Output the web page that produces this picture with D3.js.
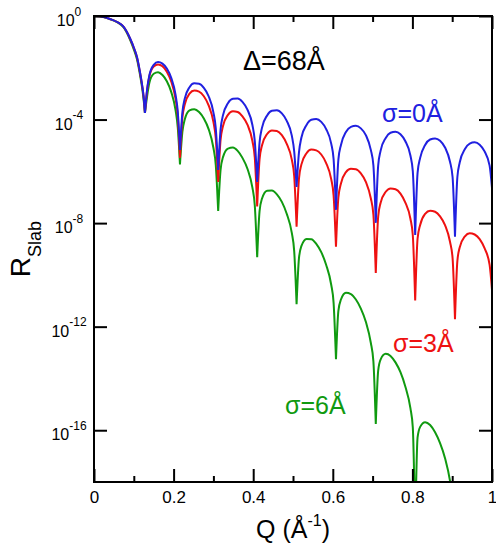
<!DOCTYPE html>
<html>
<head>
<meta charset="utf-8">
<script src="https://d3js.org/d3.v7.min.js"></script>
<style>
  body { margin: 0; background: #fff; }
  svg { display: block; font-family: "Liberation Sans", Arial, sans-serif; }
  .data-line { fill: none; stroke-width: 2; stroke-linejoin: round; }
  .tick line { stroke: #000; stroke-width: 2; }
</style>
</head>
<body>
<svg id="chart" width="496" height="546"></svg>
<script>
"use strict";

/******************************************************* Data *******************************************************/

// Q values (1/Å) shared by the three curves
const Q_VALUES = [
  0, 0.015, 0.04, 0.058, 0.074, 0.0905, 0.1005, 0.108, 0.1155, 0.1205, 0.1245, 0.128,
  0.1335, 0.139, 0.150, 0.161, 0.172, 0.183, 0.194, 0.205, 0.2105, 0.216,
  0.222, 0.228, 0.240, 0.252, 0.264, 0.276, 0.288, 0.300, 0.306, 0.312,
  0.318, 0.324, 0.3365, 0.349, 0.361, 0.373, 0.3855, 0.398, 0.404, 0.410,
  0.416, 0.422, 0.435, 0.447, 0.4595, 0.472, 0.484, 0.497, 0.503, 0.509,
  0.515, 0.521, 0.534, 0.546, 0.5585, 0.571, 0.583, 0.596, 0.602, 0.608,
  0.614, 0.6205, 0.633, 0.6455, 0.658, 0.6705, 0.683, 0.6955, 0.702, 0.708,
  0.714, 0.720, 0.733, 0.745, 0.7575, 0.770, 0.782, 0.795, 0.801, 0.807,
  0.813, 0.8195, 0.832, 0.8445, 0.857, 0.8695, 0.882, 0.8945, 0.901, 0.907,
  0.913, 0.919, 0.932, 0.944, 0.9565, 0.969, 0.981, 0.994, 1.0
];

// log10(R), sigma = 0 Å
const LOG_R_SIGMA0 = [
  0, -0.008, -0.116, -0.232, -0.413, -0.861, -1.236, -1.583, -2.162, -2.625, -3.089, -3.745,
  -2.82, -2.30, -1.89, -1.78, -1.84, -2.03, -2.39, -3.05, -3.70, -5.17,
  -3.73, -3.19, -2.75, -2.60, -2.62, -2.78, -3.10, -3.72, -4.34, -5.95,
  -4.39, -3.84, -3.37, -3.20, -3.19, -3.32, -3.62, -4.21, -4.83, -6.41,
  -4.88, -4.32, -3.84, -3.66, -3.64, -3.76, -4.04, -4.62, -5.23, -6.60,
  -5.27, -4.70, -4.21, -4.01, -3.98, -4.09, -4.36, -4.93, -5.53, -7.49,
  -5.55, -4.98, -4.48, -4.28, -4.24, -4.34, -4.60, -5.17, -5.77, -7.99,
  -5.78, -5.21, -4.71, -4.51, -4.47, -4.57, -4.83, -5.39, -5.99, -8.46,
  -6.06, -5.48, -4.98, -4.77, -4.73, -4.82, -5.08, -5.63, -6.23, -8.53,
  -6.22, -5.65, -5.14, -4.93, -4.88, -4.97, -5.22, -5.78, -6.64
];

// log10(R), sigma = 3 Å
const LOG_R_SIGMA3 = [
  0, -0.008, -0.116, -0.232, -0.415, -0.87, -1.25, -1.60, -2.18, -2.64, -3.10, -3.745,
  -2.86, -2.34, -1.95, -1.87, -1.94, -2.15, -2.53, -3.21, -3.86, -5.48,
  -3.94, -3.42, -3.00, -2.88, -2.92, -3.10, -3.45, -4.09, -4.73, -6.41,
  -4.79, -4.26, -3.82, -3.68, -3.71, -3.88, -4.20, -4.83, -5.47, -7.36,
  -5.53, -5.00, -4.56, -4.42, -4.44, -4.60, -4.93, -5.55, -6.18, -8.14,
  -6.28, -5.74, -5.30, -5.16, -5.19, -5.35, -5.67, -6.30, -6.93, -8.91,
  -7.01, -6.47, -6.03, -5.90, -5.92, -6.08, -6.41, -7.04, -7.67, -9.93,
  -7.75, -7.22, -6.79, -6.66, -6.69, -6.86, -7.20, -7.83, -8.47, -10.99,
  -8.60, -8.07, -7.64, -7.52, -7.56, -7.74, -8.08, -8.72, -9.36, -11.71,
  -9.46, -8.93, -8.51, -8.39, -8.44, -8.62, -8.96, -9.61, -10.58
];

// log10(R), sigma = 6 Å (runs off the bottom of the plot near Q = 0.9)
const LOG_R_SIGMA6 = [
  0, -0.008, -0.12, -0.24, -0.43, -0.91, -1.31, -1.67, -2.26, -2.73, -3.20, -3.745,
  -3.09, -2.59, -2.23, -2.17, -2.28, -2.52, -2.93, -3.64, -4.31, -5.73,
  -4.49, -4.00, -3.65, -3.60, -3.71, -3.96, -4.37, -5.09, -5.76, -7.53,
  -5.94, -5.46, -5.12, -5.08, -5.21, -5.48, -5.90, -6.63, -7.32, -9.32,
  -7.54, -7.06, -6.75, -6.74, -6.89, -7.18, -7.63, -8.38, -9.08, -11.13,
  -9.35, -8.89, -8.61, -8.62, -8.80, -9.12, -9.60, -10.38, -11.08, -13.26,
  -11.39, -10.95, -10.69, -10.74, -10.95, -11.30, -11.81, -12.62, -13.34, -15.76,
  -13.70, -13.27, -13.05, -13.13, -13.38, -13.76, -14.30, -15.15, -15.89, -20,
  -16.28, -15.87, -15.69, -15.80, -16.08, -16.50, -17.08, -17.96, -18.71
];

const SERIES_NAMES = ["σ=6Å", "σ=3Å", "σ=0Å"];
const SERIES_COLORS = ["#109a10", "#ee1111", "#2020e0"];

// Tick values and labels
const X_MAJOR_TICKS = [0, 0.2, 0.4, 0.6, 0.8, 1];
const X_MINOR_TICKS = [0.1, 0.3, 0.5, 0.7, 0.9];
const X_TICK_LABELS = ["0", "0.2", "0.4", "0.6", "0.8", "1"];
const Y_TICK_EXPONENTS = [0, -4, -8, -12, -16];

/******************************************************* Layout *******************************************************/

const SVG = d3.select("#chart");
const LEFT = 94;
const RIGHT = 492;
const TOP = 16;
const BOTTOM = 482;
const MAJOR_TICK = 13;
const MINOR_TICK = 6;

const X_SCALE = d3.scaleLinear().domain([0, 1]).range([LEFT, RIGHT]);
const Y_SCALE = d3.scaleLog().domain([1e-18, 1]).range([BOTTOM, TOP]);

// Clip path for the plot area
SVG.append("defs")
  .append("clipPath")
  .attr("id", "plot-clip")
  .append("rect")
  .attr("x", LEFT)
  .attr("y", TOP)
  .attr("width", RIGHT - LEFT)
  .attr("height", BOTTOM - TOP);

/******************************************************* Curves *******************************************************/

const LINE = d3
  .line()
  .x(function(d) { return X_SCALE(d.q); })
  .y(function(d) { return Y_SCALE(d.r); })
  .curve(d3.curveMonotoneX);

// Split a curve at its cusps so each arch is smoothed on its own
function arches(logValues) {
  const points = logValues.map(function(v, i) {
    return { q: Q_VALUES[i], r: Math.pow(10, v), v: v };
  });
  const segments = [];
  let current = [points[0]];
  for (let i = 1; i < points.length; i++) {
    current.push(points[i]);
    const isDip = i < points.length - 1 &&
      points[i].v < points[i - 1].v && points[i].v < points[i + 1].v;
    if (isDip) {
      segments.push(current);
      current = [points[i]];
    }
  }
  segments.push(current);
  return segments.map(LINE).join("");
}

const G_LINES = SVG.append("g").attr("clip-path", "url(#plot-clip)");
[LOG_R_SIGMA6, LOG_R_SIGMA3, LOG_R_SIGMA0].forEach(function(values, i) {
  G_LINES.append("path")
    .classed("data-line", true)
    .attr("stroke", SERIES_COLORS[i])
    .attr("d", arches(values));
});

/******************************************************* Axes *******************************************************/

function noDomain(g) {
  g.select(".domain").remove();
}

// Bottom: major ticks with labels, minor ticks without
SVG.append("g")
  .attr("transform", "translate(0," + BOTTOM + ")")
  .call(
    d3.axisBottom(X_SCALE)
      .tickValues(X_MAJOR_TICKS)
      .tickSizeInner(-MAJOR_TICK)
      .tickSizeOuter(0)
      .tickPadding(9)
      .tickFormat(function(d, i) { return X_TICK_LABELS[i]; })
  )
  .call(noDomain)
  .call(function(g) {
    g.selectAll("text")
      .attr("font-size", 17)
      .attr("font-family", "'Liberation Sans', Arial, sans-serif")
      .attr("fill", "#000");
  });

SVG.append("g")
  .attr("transform", "translate(0," + BOTTOM + ")")
  .call(d3.axisBottom(X_SCALE).tickValues(X_MINOR_TICKS).tickSize(-MINOR_TICK).tickFormat(""))
  .call(noDomain);

// Top: mirrored ticks
SVG.append("g")
  .attr("transform", "translate(0," + TOP + ")")
  .call(d3.axisTop(X_SCALE).tickValues(X_MAJOR_TICKS).tickSize(-MAJOR_TICK).tickFormat(""))
  .call(noDomain);

SVG.append("g")
  .attr("transform", "translate(0," + TOP + ")")
  .call(d3.axisTop(X_SCALE).tickValues(X_MINOR_TICKS).tickSize(-MINOR_TICK).tickFormat(""))
  .call(noDomain);

// Left and right: every fourth decade
const Y_TICK_VALUES = Y_TICK_EXPONENTS.map(function(e) { return Math.pow(10, e); });

SVG.append("g")
  .attr("transform", "translate(" + LEFT + ",0)")
  .call(d3.axisLeft(Y_SCALE).tickValues(Y_TICK_VALUES).tickSize(-MAJOR_TICK).tickFormat(""))
  .call(noDomain);

SVG.append("g")
  .attr("transform", "translate(" + RIGHT + ",0)")
  .call(d3.axisRight(Y_SCALE).tickValues(Y_TICK_VALUES).tickSize(-MAJOR_TICK).tickFormat(""))
  .call(noDomain);

// Power-of-ten labels
const Y_LABELS = SVG.append("g")
  .attr("text-anchor", "middle")
  .attr("fill", "#000");

Y_TICK_EXPONENTS.forEach(function(e) {
  const text = Y_LABELS.append("text")
    .attr("x", 69)
    .attr("y", Y_SCALE(Math.pow(10, e)) + 10);
  text.append("tspan").attr("font-size", 16).text("10");
  text.append("tspan").attr("font-size", 12).attr("dy", -10.5).text(String(e));
});

// Frame
SVG.append("rect")
  .attr("x", LEFT)
  .attr("y", TOP)
  .attr("width", RIGHT - LEFT)
  .attr("height", BOTTOM - TOP)
  .attr("fill", "none")
  .attr("stroke", "#000")
  .attr("stroke-width", 2);

/******************************************************* Titles *******************************************************/

// X title: Q (Å^-1)
const X_TITLE = SVG.append("text")
  .attr("x", X_SCALE(0.5))
  .attr("y", 538)
  .attr("text-anchor", "middle")
  .attr("font-size", 25);
X_TITLE.append("tspan").text("Q (Å");
X_TITLE.append("tspan").attr("font-size", 16).attr("dy", -12).text("-1");
X_TITLE.append("tspan").attr("dy", 12).text(")");

// Y title: R_Slab
const Y_TITLE = SVG.append("text")
  .attr("transform", "translate(30," + (TOP + BOTTOM) / 2 + ") rotate(-90)")
  .attr("text-anchor", "middle")
  .attr("font-size", 28);
Y_TITLE.append("tspan").text("R");
Y_TITLE.append("tspan").attr("font-size", 18).attr("dy", 11).text("Slab");

// Annotations
SVG.append("text")
  .attr("x", 243)
  .attr("y", 70)
  .attr("font-size", 27)
  .attr("fill", "#000")
  .text("Δ=68Å");

const LABEL_SPOTS = [
  { x: 285, y: 414 },
  { x: 393, y: 352 },
  { x: 382, y: 122 }
];
SERIES_NAMES.forEach(function(name, i) {
  SVG.append("text")
    .attr("x", LABEL_SPOTS[i].x)
    .attr("y", LABEL_SPOTS[i].y)
    .attr("font-size", 25)
    .attr("fill", SERIES_COLORS[i])
    .text(name);
});
</script>
</body>
</html>
